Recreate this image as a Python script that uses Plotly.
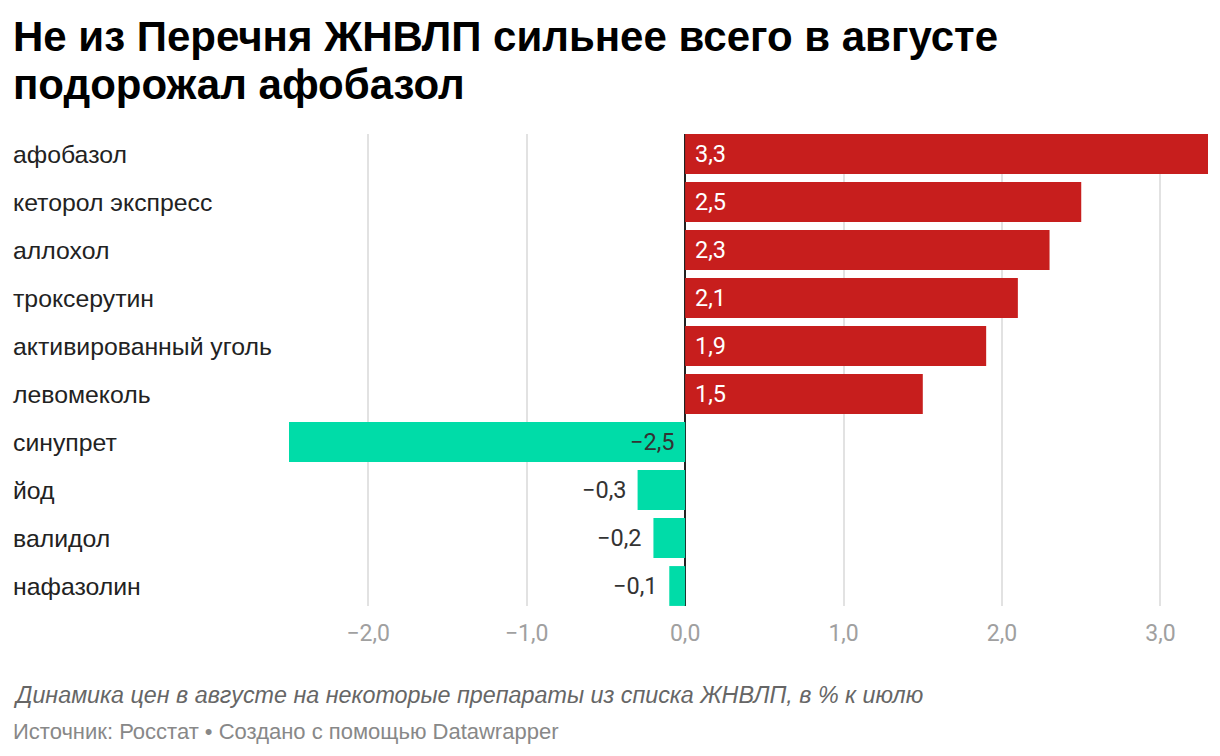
import plotly.graph_objects as go

categories = ["афобазол", "кеторол экспресс", "аллохол", "троксерутин",
              "активированный уголь", "левомеколь", "синупрет", "йод",
              "валидол", "нафазолин"]
values = [3.3, 2.5, 2.3, 2.1, 1.9, 1.5, -2.5, -0.3, -0.2, -0.1]
tick_vals = [-2, -1, 0, 1, 2, 3]
tick_text = ["−2,0", "−1,0", "0,0", "1,0", "2,0", "3,0"]

RED = "#c71e1d"
GREEN = "#00dca8"
# page body has an 8px margin, so the figure is 8px smaller each way
W, H = 1212, 748
ML, MR, MT, MB = 3, 12, 126, 150
plot_left_px = 281
dom0 = (plot_left_px - ML) / (W - ML - MR)
PH = H - MT - MB  # plot height in px


def py(fig_y):
    """paper y for a figure pixel row"""
    return (H - MB - fig_y) / PH


def fmt(v):
    s = f"{abs(v):.1f}".replace(".", ",")
    return ("−" + s) if v < 0 else s


idx = list(range(len(categories)))
colors = [RED if v >= 0 else GREEN for v in values]

fig = go.Figure()
fig.add_trace(go.Bar(
    x=values, y=idx, orientation="h",
    marker=dict(color=colors, line=dict(width=0)),
    width=0.83, hoverinfo="skip",
))

annotations = []
for i, (c, v) in enumerate(zip(categories, values)):
    annotations.append(dict(
        x=0, xref="paper", y=i, yref="y", text=c, showarrow=False,
        xanchor="left", yanchor="middle",
        font=dict(family="Liberation Sans", size=24.8, color="#222222"),
    ))
    if v >= 0:
        annotations.append(dict(
            x=0, xref="x", y=i, yref="y", text=fmt(v), showarrow=False,
            xanchor="left", yanchor="middle", xshift=8,
            font=dict(family="Roboto", size=23.5, color="#ffffff"),
        ))
    else:
        inside = abs(v) >= 0.6
        annotations.append(dict(
            x=0 if inside else v, xref="x", y=i, yref="y", text=fmt(v),
            showarrow=False, xanchor="right", yanchor="middle",
            xshift=-9 if inside else -10,
            font=dict(family="Roboto", size=23.5, color="#333333"),
        ))

title_lines = ["Не из Перечня ЖНВЛП сильнее всего в августе",
               "подорожал афобазол"]
title_y = [28, 77]
for t, yy in zip(title_lines, title_y):
    annotations.append(dict(
        x=0, xref="paper", y=py(yy), yref="paper", yanchor="middle",
        xanchor="left", text=f"<b>{t}</b>", showarrow=False, align="left",
        font=dict(family="Liberation Sans", size=42, color="#000000"),
    ))
annotations.append(dict(
    x=0, xref="paper", y=py(687), yref="paper", yanchor="middle", xanchor="left",
    text="<i>Динамика цен в августе на некоторые препараты из списка ЖНВЛП, в % к июлю</i>",
    showarrow=False, align="left",
    font=dict(family="Liberation Sans", size=23.3, color="#666666"),
))
annotations.append(dict(
    x=0, xref="paper", y=py(723), yref="paper", yanchor="middle", xanchor="left",
    text="Источник: Росстат • Создано с помощью Datawrapper",
    showarrow=False, align="left",
    font=dict(family="Liberation Sans", size=22, color="#888888"),
))

fig.update_layout(
    width=W, height=H,
    margin=dict(l=ML, r=MR, t=MT, b=MB),
    paper_bgcolor="white", plot_bgcolor="white",
    showlegend=False,
    annotations=annotations,
    xaxis=dict(
        domain=[dom0, 1], range=[-2.5, 3.3],
        tickvals=tick_vals, ticktext=tick_text,
        showgrid=True, gridcolor="#e2e2e2", gridwidth=2,
        zeroline=True, zerolinecolor="#222222", zerolinewidth=2,
        ticks="", showline=False, fixedrange=True,
        tickfont=dict(family="Roboto", size=23, color="#a0a0a0"),
        ticklabelstandoff=11,
    ),
    yaxis=dict(
        range=[9.4167, -0.4167], showticklabels=False, showgrid=False,
        zeroline=False, showline=False, ticks="", fixedrange=True,
    ),
)

fig.write_html("out.html")
